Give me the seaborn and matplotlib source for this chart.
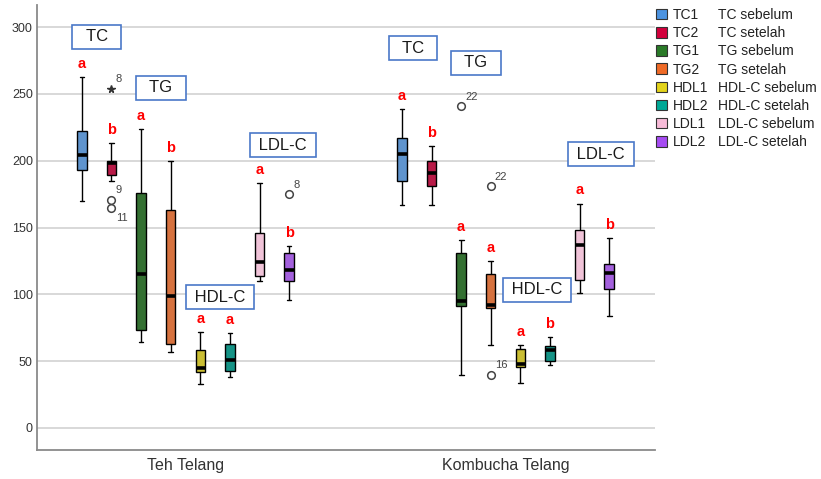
import numpy as np
import pandas as pd
import matplotlib
matplotlib.use("Agg")
import matplotlib.pyplot as plt
from matplotlib.patches import Patch
from matplotlib.lines import Line2D
import seaborn as sns

# ---- data -------------------------------------------------------------
groups = ["Teh Telang", "Kombucha Telang"]
codes = ["TC1", "TC2", "TG1", "TG2", "HDL1", "HDL2", "LDL1", "LDL2"]
descriptions = ["TC sebelum", "TC setelah", "TG sebelum", "TG setelah",
                "HDL-C sebelum", "HDL-C setelah", "LDL-C sebelum", "LDL-C setelah"]
colors = ["#4C93E0", "#D2003C", "#2A7A28", "#EF6A26",
          "#E3D31A", "#00A896", "#F7BBD8", "#A64CF2"]

# observations (mg/dL), Teh Telang group
teh_tc1 = [170, 193, 204, 222, 263]
teh_tc2 = [165, 171, 185, 189, 192, 196, 198, 199, 200, 200, 206, 213, 254]
teh_tg1 = [64, 73, 115, 176, 224]
teh_tg2 = [57, 63, 99, 163, 200]
teh_hdl1 = [33, 42, 45, 58, 72]
teh_hdl2 = [38, 43, 51, 63, 71]
teh_ldl1 = [110, 114, 124, 146, 183]
teh_ldl2 = [96, 104, 110, 114, 118, 125, 131, 136, 175]

# observations (mg/dL), Kombucha Telang group
kom_tc1 = [167, 185, 205, 217, 239]
kom_tc2 = [167, 181, 191, 200, 211]
kom_tg1 = [40, 70, 91, 93, 95, 120, 131, 141, 241]
kom_tg2 = [40, 62, 90, 91, 92, 110, 115, 125, 181]
kom_hdl1 = [34, 46, 48, 59, 62]
kom_hdl2 = [47, 50, 58, 61, 68]
kom_ldl1 = [101, 111, 137, 148, 168]
kom_ldl2 = [84, 104, 116, 123, 142]

# case numbers of the outlying observations
outlier_cases = {
    ("Teh Telang", "TC2", 254): "8",
    ("Teh Telang", "TC2", 171): "9",
    ("Teh Telang", "TC2", 165): "11",
    ("Teh Telang", "LDL2", 175): "8",
    ("Kombucha Telang", "TG1", 241): "22",
    ("Kombucha Telang", "TG2", 181): "22",
    ("Kombucha Telang", "TG2", 40): "16",
}

# significance letters above each box
letters_teh = ["a", "b", "a", "b", "a", "a", "a", "b"]
letters_kom = ["a", "b", "a", "a", "a", "b", "a", "b"]

teh_lists = [teh_tc1, teh_tc2, teh_tg1, teh_tg2, teh_hdl1, teh_hdl2, teh_ldl1, teh_ldl2]
kom_lists = [kom_tc1, kom_tc2, kom_tg1, kom_tg2, kom_hdl1, kom_hdl2, kom_ldl1, kom_ldl2]

rows = []
for g, lists in zip(groups, [teh_lists, kom_lists]):
    for code, vals in zip(codes, lists):
        for v in vals:
            rows.append((g, code, v))
df = pd.DataFrame(rows, columns=["Kelompok", "Variabel", "Nilai"])

# ---- figure -----------------------------------------------------------
sns.set_style("white")
plt.rcParams["font.family"] = ["Liberation Sans", "DejaVu Sans"]

W, H = 821, 479
fig = plt.figure(figsize=(W / 100, H / 100), dpi=100)
ax = fig.add_axes([37 / W, 1 - 450 / H, (655 - 37) / W, (450 - 5) / H])

box_width = 0.74
sns.boxplot(data=df, x="Kelompok", y="Nilai", hue="Variabel",
            order=groups, hue_order=codes, palette=colors,
            width=box_width, gap=0.68, linecolor="black", linewidth=1,
            showfliers=False, whis=1.5,
            medianprops={"linewidth": 2.6, "color": "black"},
            legend=False, ax=ax)

ax.set_xlim(-0.464, 1.467)
ax.set_ylim(-16.5, 316.6)
ax.set_yticks(range(0, 301, 50))
ax.set_xlabel("")
ax.set_ylabel("")
ax.grid(axis="y", color="#d6d6d6", linewidth=1.3)
ax.grid(axis="x", visible=False)
ax.set_axisbelow(True)
for side in ["top", "right"]:
    ax.spines[side].set_visible(False)
for side in ["left", "bottom"]:
    ax.spines[side].set_color("#8a8a8a")
    ax.spines[side].set_linewidth(1.3)
ax.tick_params(axis="y", length=0, labelsize=9, colors="#333333", pad=3)
ax.tick_params(axis="x", length=0, labelsize=11.5, colors="#333333", pad=6)

# ---- outliers, case numbers and letters --------------------------------
n = len(codes)
slot = box_width / n
for gi, (g, lists, letters) in enumerate(zip(groups, [teh_lists, kom_lists],
                                              [letters_teh, letters_kom])):
    for hi, (code, vals, letter) in enumerate(zip(codes, lists, letters)):
        xpos = gi - box_width / 2 + slot * (hi + 0.5)
        arr = np.asarray(vals, dtype=float)
        q1, q3 = np.percentile(arr, [25, 75])
        iqr = q3 - q1
        lo, hi_f = q1 - 1.5 * iqr, q3 + 1.5 * iqr
        inside = arr[(arr >= lo) & (arr <= hi_f)]
        whisk_top = inside.max()
        outs = sorted(arr[(arr < lo) | (arr > hi_f)])
        for k, v in enumerate(outs):
            extreme = v > q3 + 3 * iqr or v < q1 - 3 * iqr
            if extreme:
                ax.plot(xpos, v, marker="*", markersize=5.5, color="#333333",
                        linestyle="none", zorder=4)
            else:
                ax.plot(xpos, v, marker="o", markersize=5.5, markerfacecolor="white",
                        markeredgecolor="#444444", markeredgewidth=1.1,
                        linestyle="none", zorder=4)
            case = outlier_cases.get((g, code, int(v)))
            if case:
                below = k + 1 < len(outs) and outs[k + 1] - v < 10
                ax.annotate(case, (xpos, v), xytext=(3, -4 if below else 3),
                            textcoords="offset points", ha="left",
                            va="top" if below else "bottom",
                            fontsize=8, color="#444444")
        ax.annotate(letter, (xpos, whisk_top), xytext=(0, 6.5),
                    textcoords="offset points", ha="center", va="baseline",
                    fontsize=10.5, fontweight="bold", color="#ff0000")

# ---- parameter name boxes ---------------------------------------------
box_style = dict(boxstyle="square,pad=0.25", facecolor="white",
                 edgecolor="#4A78C8", linewidth=1.2)
name_boxes = [("  TC  ", -0.277, 292.7), ("  TG  ", -0.077, 254.5),
              (" LDL-C ", 0.305, 211.8), (" HDL-C ", 0.108, 98.0),
              ("  TC  ", 0.711, 284.4), ("  TG  ", 0.908, 273.2),
              (" HDL-C ", 1.098, 103.3), (" LDL-C ", 1.298, 205.0)]
for label, x, y in name_boxes:
    ax.text(x, y, label, ha="center", va="center", fontsize=12,
            color="#1a1a1a", bbox=box_style, zorder=5)

# ---- legend -------------------------------------------------------------
handles = [Patch(facecolor=c, edgecolor="#333333", linewidth=0.8) for c in colors]
common = dict(loc="upper left", frameon=False, fontsize=10, labelspacing=0.3,
              borderpad=0, borderaxespad=0, handleheight=0.8, labelcolor="#222222")
fig.legend(handles, codes, bbox_to_anchor=(656 / W, 1 - 8 / H),
           handlelength=0.8, handletextpad=0.4, **common)
blank = [Line2D([], [], linestyle="none") for _ in descriptions]
fig.legend(blank, descriptions, bbox_to_anchor=(718 / W, 1 - 8 / H),
           handlelength=0, handletextpad=0, **common)

fig.savefig("out.png", dpi=100)
